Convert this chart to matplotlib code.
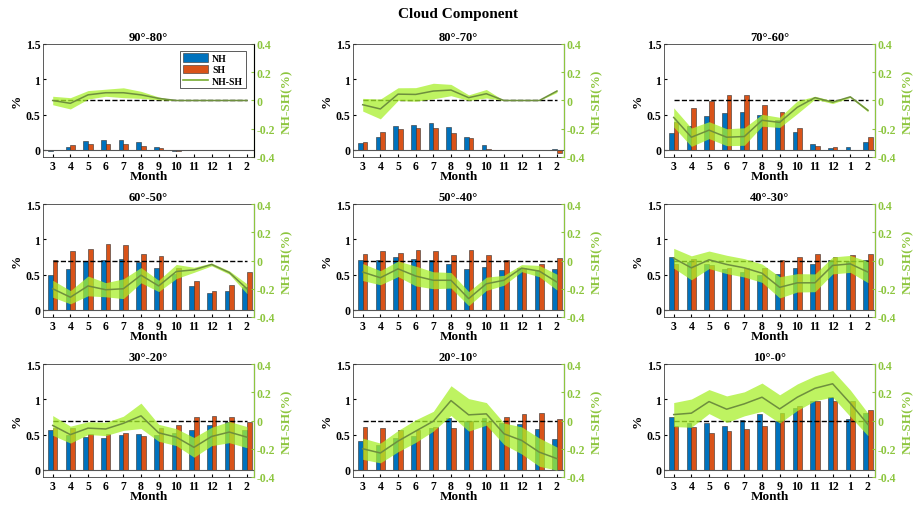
import matplotlib
matplotlib.use('Agg')
import matplotlib.pyplot as plt
from matplotlib.lines import Line2D
import numpy as np

plt.rcParams['font.family'] = 'Liberation Serif'
plt.rcParams['font.weight'] = 'bold'
plt.rcParams['axes.unicode_minus'] = False

months = ['3', '4', '5', '6', '7', '8', '9', '10', '11', '12', '1', '2']
regions = ['90°-80°', '80°-70°', '70°-60°',
           '60°-50°', '50°-40°', '40°-30°',
           '30°-20°', '20°-10°', '10°-0°']

# cloud fraction per latitude band (%)
nh = [
    [-0.01, 0.047, 0.127, 0.14, 0.14, 0.11, 0.04, -0.01, 0, 0, 0, 0],
    [0.094, 0.19, 0.34, 0.36, 0.375, 0.32, 0.19, 0.066, -0.005, 0, 0, 0.015],
    [0.235, 0.34, 0.48, 0.525, 0.54, 0.5, 0.42, 0.25, 0.08, 0.028, 0.042, 0.117],
    [0.5, 0.58, 0.69, 0.71, 0.72, 0.68, 0.6, 0.51, 0.34, 0.235, 0.27, 0.33],
    [0.705, 0.705, 0.745, 0.72, 0.705, 0.645, 0.58, 0.615, 0.56, 0.6, 0.56, 0.58],
    [0.745, 0.675, 0.65, 0.58, 0.535, 0.49, 0.51, 0.6, 0.65, 0.705, 0.7, 0.705],
    [0.567, 0.49, 0.465, 0.45, 0.49, 0.51, 0.49, 0.52, 0.56, 0.64, 0.675, 0.567],
    [0.405, 0.355, 0.45, 0.48, 0.6, 0.73, 0.69, 0.74, 0.66, 0.65, 0.58, 0.44],
    [0.745, 0.66, 0.66, 0.62, 0.705, 0.785, 0.7, 0.87, 0.97, 1.03, 0.72, 0.8],
]
sh = [
    [0, 0.066, 0.08, 0.08, 0.08, 0.06, 0.023, -0.01, 0, 0, 0, 0],
    [0.117, 0.25, 0.29, 0.31, 0.31, 0.245, 0.165, 0.01, -0.005, 0, 0, -0.04],
    [0.4, 0.595, 0.69, 0.78, 0.78, 0.64, 0.54, 0.305, 0.06, 0.037, 0.005, 0.19],
    [0.705, 0.83, 0.86, 0.93, 0.92, 0.785, 0.77, 0.59, 0.41, 0.27, 0.35, 0.54],
    [0.785, 0.83, 0.8, 0.845, 0.84, 0.775, 0.845, 0.775, 0.705, 0.6, 0.65, 0.73],
    [0.65, 0.72, 0.63, 0.6, 0.6, 0.59, 0.705, 0.745, 0.795, 0.745, 0.775, 0.795],
    [0.6, 0.59, 0.51, 0.51, 0.52, 0.48, 0.595, 0.635, 0.745, 0.765, 0.745, 0.685],
    [0.605, 0.6, 0.56, 0.56, 0.61, 0.59, 0.69, 0.68, 0.75, 0.79, 0.81, 0.72],
    [0.62, 0.61, 0.53, 0.545, 0.585, 0.62, 0.8, 0.91, 0.97, 0.97, 0.98, 0.85],
]
# NH-SH difference and its spread
diff = [
    [0.0, -0.02, 0.04, 0.055, 0.055, 0.04, 0.015, 0, 0, 0, 0, 0],
    [-0.03, -0.06, 0.045, 0.043, 0.067, 0.074, 0.02, 0.048, 0, 0, 0, 0.067],
    [-0.12, -0.26, -0.21, -0.26, -0.255, -0.14, -0.155, -0.048, 0.02, -0.012, 0.026, -0.07],
    [-0.2, -0.26, -0.18, -0.207, -0.2, -0.104, -0.18, -0.078, -0.066, -0.028, -0.085, -0.2],
    [-0.082, -0.122, -0.059, -0.11, -0.14, -0.14, -0.27, -0.165, -0.14, -0.054, -0.075, -0.153],
    [0.016, -0.052, 0.005, -0.028, -0.052, -0.09, -0.19, -0.158, -0.158, -0.035, -0.024, -0.082],
    [-0.035, -0.1, -0.054, -0.06, -0.02, 0.033, -0.087, -0.118, -0.19, -0.113, -0.082, -0.118],
    [-0.2, -0.23, -0.146, -0.075, -0.005, 0.141, 0.04, 0.047, -0.094, -0.141, -0.224, -0.27],
    [0.042, 0.052, 0.134, 0.08, 0.118, 0.165, 0.082, 0.165, 0.228, 0.26, 0.122, -0.028],
]
spread = [
    [0.03, 0.04, 0.03, 0.025, 0.035, 0.025, 0.01, 0, 0, 0, 0, 0],
    [0.045, 0.07, 0.045, 0.048, 0.055, 0.04, 0.02, 0.03, 0, 0, 0, 0.01],
    [0.068, 0.065, 0.06, 0.06, 0.062, 0.042, 0.036, 0.045, 0.01, 0.01, 0.005, 0.01],
    [0.06, 0.047, 0.07, 0.05, 0.07, 0.054, 0.04, 0.05, 0.018, 0.01, 0.012, 0.035],
    [0.06, 0.05, 0.055, 0.07, 0.06, 0.055, 0.05, 0.047, 0.035, 0.025, 0.04, 0.056],
    [0.07, 0.085, 0.062, 0.065, 0.065, 0.065, 0.075, 0.065, 0.063, 0.06, 0.06, 0.075],
    [0.07, 0.06, 0.045, 0.047, 0.05, 0.09, 0.06, 0.06, 0.07, 0.065, 0.075, 0.075],
    [0.075, 0.07, 0.075, 0.08, 0.07, 0.105, 0.115, 0.08, 0.076, 0.096, 0.1, 0.082],
    [0.085, 0.1, 0.085, 0.094, 0.085, 0.1, 0.1, 0.094, 0.088, 0.094, 0.094, 0.08],
]

blue = '#0072BD'
orange = '#D95319'
green = '#8DC63F'

W, H = 916, 506
fig = plt.figure(figsize=(W / 100, H / 100), dpi=100)
fig.suptitle('Cloud Component', fontsize=11, fontweight='bold', y=0.985)

lefts = [43, 353, 664]
tops = [45, 205, 365]
aw, ah = 211, 113
x = np.arange(1, 13)
bw = 0.27

for k in range(9):
    r, c = divmod(k, 3)
    ax = fig.add_axes([lefts[c] / W, 1 - (tops[r] + ah) / H, aw / W, ah / H])
    ax.bar(x - bw / 2, nh[k], bw, color=blue, edgecolor='#303030', linewidth=0.4, label='NH')
    ax.bar(x + bw / 2, sh[k], bw, color=orange, edgecolor='#303030', linewidth=0.4, label='SH')
    ax.axhline(0, color='#555555', linewidth=0.8)
    ax.set_xlim(0.45, 12.4)
    ax.set_ylim(-0.1, 1.5)
    ax.set_yticks([0, 0.5, 1, 1.5])
    ax.set_yticklabels(['0', '0.5', '1', '1.5'])
    ax.set_xticks(x)
    ax.set_xticklabels(months)
    ax.tick_params(direction='in', labelsize=8.5, length=2.5, pad=2)
    ax.set_xlabel('Month', fontsize=9.5, fontweight='bold', labelpad=-1)
    ax.set_ylabel('%', fontsize=9.5, fontweight='bold', labelpad=2)
    ax.set_title(regions[k], fontsize=9, fontweight='bold', pad=3)
    for s in ['left', 'bottom', 'top']:
        ax.spines[s].set_color('#404040')
        ax.spines[s].set_linewidth(0.6)

    # difference on the right axis
    ax2 = ax.twinx()
    d = np.array(diff[k])
    e = np.array(spread[k])
    ax2.plot([1, 12], [0, 0], 'k--', linewidth=1.0, zorder=1)
    ax2.fill_between(x, d - e, d + e, color='#A8F02C', alpha=0.75, linewidth=0, zorder=2)
    ax2.plot(x, d, color='#6E8F3E', linewidth=1.1, zorder=3)
    ax2.set_ylim(-0.4, 0.4)
    ax2.set_yticks([-0.4, -0.2, 0, 0.2, 0.4])
    ax2.set_yticklabels(['-0.4', '-0.2', '0', '0.2', '0.4'])
    ax2.tick_params(direction='in', labelsize=8.5, length=2.5, pad=2, colors=green)
    ax2.set_ylabel('NH-SH(%)', fontsize=9.5, fontweight='bold', color=green, labelpad=4)
    ax2.spines['right'].set_color(green)
    ax2.spines['right'].set_linewidth(0.8)
    for s in ['left', 'bottom', 'top']:
        ax2.spines[s].set_visible(False)

    if k == 0:
        handles = ax.get_legend_handles_labels()[0]
        handles.append(Line2D([], [], color='#77AC30', linewidth=1.2))
        leg = ax.legend(handles, ['NH', 'SH', 'NH-SH'], loc='upper right',
                        bbox_to_anchor=(0.985, 0.985), fontsize=7, fancybox=False,
                        handlelength=2.6, handleheight=0.9, borderpad=0.3,
                        labelspacing=0.2, handletextpad=0.4, framealpha=1)
        leg.get_frame().set_edgecolor('#404040')
        leg.get_frame().set_linewidth(0.6)
        leg.set_zorder(10)
        ax.set_zorder(ax2.get_zorder() + 1)
        ax.patch.set_visible(False)

fig.savefig('out.png', dpi=100)
